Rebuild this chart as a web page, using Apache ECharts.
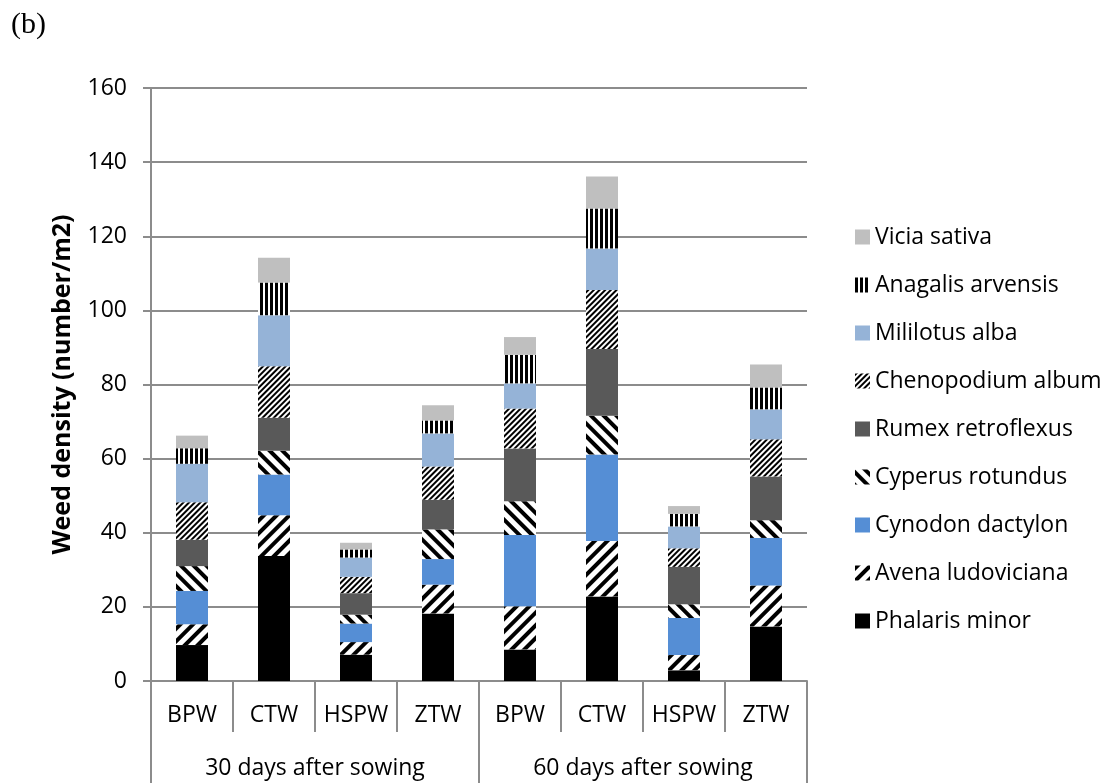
<!DOCTYPE html>
<html>
<head>
<meta charset="utf-8">
<title>Weed density</title>
<script src="https://cdn.jsdelivr.net/npm/echarts@6/dist/echarts.min.js"></script>
<style>
  html, body { margin: 0; padding: 0; background: #ffffff; }
  #chart { width: 1102px; height: 783px; }
</style>
</head>
<body>
<div id="chart"></div>
<script>
// Sampling stage (outer axis level) and tillage treatment (inner axis level)
const stages = ['30 days after sowing', '60 days after sowing'];
const treatments = ['BPW', 'CTW', 'HSPW', 'ZTW', 'BPW', 'CTW', 'HSPW', 'ZTW'];

// Weed density (number/m2) per species, one value per treatment column
const phalarisMinor      = [9.7, 33.7, 7.1, 18.2, 8.5, 22.8, 2.9, 14.7];
const avenaLudoviciana   = [5.6, 11.0, 3.4, 7.8, 11.7, 15.0, 4.1, 11.1];
const cynodonDactylon    = [9.0, 11.0, 5.0, 6.9, 19.2, 23.3, 10.0, 12.8];
const cyperusRotundus    = [6.7, 6.4, 2.4, 8.0, 9.1, 10.5, 3.7, 4.8];
const rumexRetroflexus   = [7.1, 8.9, 5.8, 8.0, 14.2, 18.0, 10.1, 11.8];
const chenopodiumAlbum   = [10.1, 13.9, 4.4, 9.0, 10.8, 15.9, 5.0, 10.0];
const mililotusAlba      = [10.4, 13.8, 5.2, 8.9, 6.8, 11.2, 5.9, 8.1];
const anagalisArvensis   = [4.2, 8.8, 2.2, 3.5, 7.7, 10.8, 3.4, 5.9];
const viciaSativa        = [3.4, 6.7, 1.8, 4.1, 4.8, 8.6, 2.1, 6.2];

const yMin = 0, yMax = 160, yStep = 20;

const FONT = "'Open Sans', 'Noto Sans', sans-serif";
const GRAY = '#8c8c8c';

// Hatch fills
const wideUp = { symbol: 'rect', symbolSize: 1, color: '#000', dashArrayX: [1, 0], dashArrayY: [4, 5], rotation: -Math.PI / 4 };
const wideDown = { symbol: 'rect', symbolSize: 1, color: '#000', dashArrayX: [1, 0], dashArrayY: [4, 5], rotation: Math.PI / 4 };
const narrowUp = { symbol: 'rect', symbolSize: 1, color: '#000', dashArrayX: [1, 0], dashArrayY: [2, 2], rotation: -Math.PI / 4 };
const vertical = { symbol: 'rect', symbolSize: 1, color: '#000', dashArrayX: [3, 2], dashArrayY: [1, 0], rotation: 0 };

const species = [
  { name: 'Phalaris minor', data: phalarisMinor, color: '#000000' },
  { name: 'Avena ludoviciana', data: avenaLudoviciana, color: '#ffffff', decal: wideUp },
  { name: 'Cynodon dactylon', data: cynodonDactylon, color: '#558ed5' },
  { name: 'Cyperus rotundus', data: cyperusRotundus, color: '#ffffff', decal: wideDown },
  { name: 'Rumex retroflexus', data: rumexRetroflexus, color: '#595959' },
  { name: 'Chenopodium album', data: chenopodiumAlbum, color: '#ffffff', decal: narrowUp },
  { name: 'Mililotus alba', data: mililotusAlba, color: '#95b3d7' },
  { name: 'Anagalis arvensis', data: anagalisArvensis, color: '#ffffff', decal: vertical },
  { name: 'Vicia sativa', data: viciaSativa, color: '#bfbfbf' }
];

const series = species.map(s => ({
  name: s.name,
  type: 'bar',
  stack: 'total',
  xAxisIndex: 0,
  yAxisIndex: 0,
  barWidth: 32,
  data: s.data,
  itemStyle: Object.assign({ color: s.color, borderWidth: 0 }, s.decal ? { decal: s.decal } : {}),
  emphasis: { disabled: true }
}));

const chart = echarts.init(document.getElementById('chart'), null, { renderer: 'canvas' });

chart.setOption({
  animation: false,
  backgroundColor: '#ffffff',
  title: {
    text: '(b)',
    left: 6,
    top: 5,
    textStyle: { fontFamily: "'Liberation Serif', 'DejaVu Serif', serif", fontSize: 30, fontWeight: 'normal', color: '#000' }
  },
  grid: { left: 151, right: 295, top: 88, bottom: 102, containLabel: false },
  legend: {
    orient: 'vertical',
    left: 850,
    top: 220,
    icon: 'rect',
    itemWidth: 15,
    itemHeight: 15,
    itemGap: 24,
    data: species.map(s => s.name).reverse(),
    textStyle: { fontFamily: FONT, fontSize: 23, lineHeight: 24, color: '#000' },
    selectedMode: false
  },
  xAxis: [
    {
      type: 'category',
      data: treatments,
      position: 'bottom',
      boundaryGap: true,
      axisLine: { show: true, lineStyle: { color: GRAY, width: 2 } },
      axisTick: { show: true, length: 51, lineStyle: { color: GRAY, width: 2 } },
      axisLabel: { fontFamily: FONT, fontSize: 23, color: '#000', margin: 23, interval: 0 },
      splitLine: { show: false }
    },
    {
      type: 'category',
      data: stages,
      position: 'bottom',
      boundaryGap: true,
      axisLine: { show: false },
      axisTick: { show: true, length: 102, lineStyle: { color: GRAY, width: 2 } },
      axisLabel: { fontFamily: FONT, fontSize: 23, color: '#000', margin: 76, interval: 0 },
      splitLine: { show: false }
    }
  ],
  yAxis: {
    type: 'value',
    min: yMin,
    max: yMax,
    interval: yStep,
    name: 'Weed density (number/m2)',
    nameLocation: 'middle',
    nameGap: 76,
    nameTextStyle: { fontFamily: FONT, fontSize: 25, fontWeight: 'bold', color: '#000' },
    axisLine: { show: true, lineStyle: { color: GRAY, width: 2 } },
    axisTick: { show: true, length: 8, lineStyle: { color: GRAY, width: 2 } },
    axisLabel: { fontFamily: FONT, fontSize: 23, color: '#000', margin: 24 },
    splitLine: { show: true, lineStyle: { color: GRAY, width: 2 } }
  },
  series: series
});
</script>
</body>
</html>
